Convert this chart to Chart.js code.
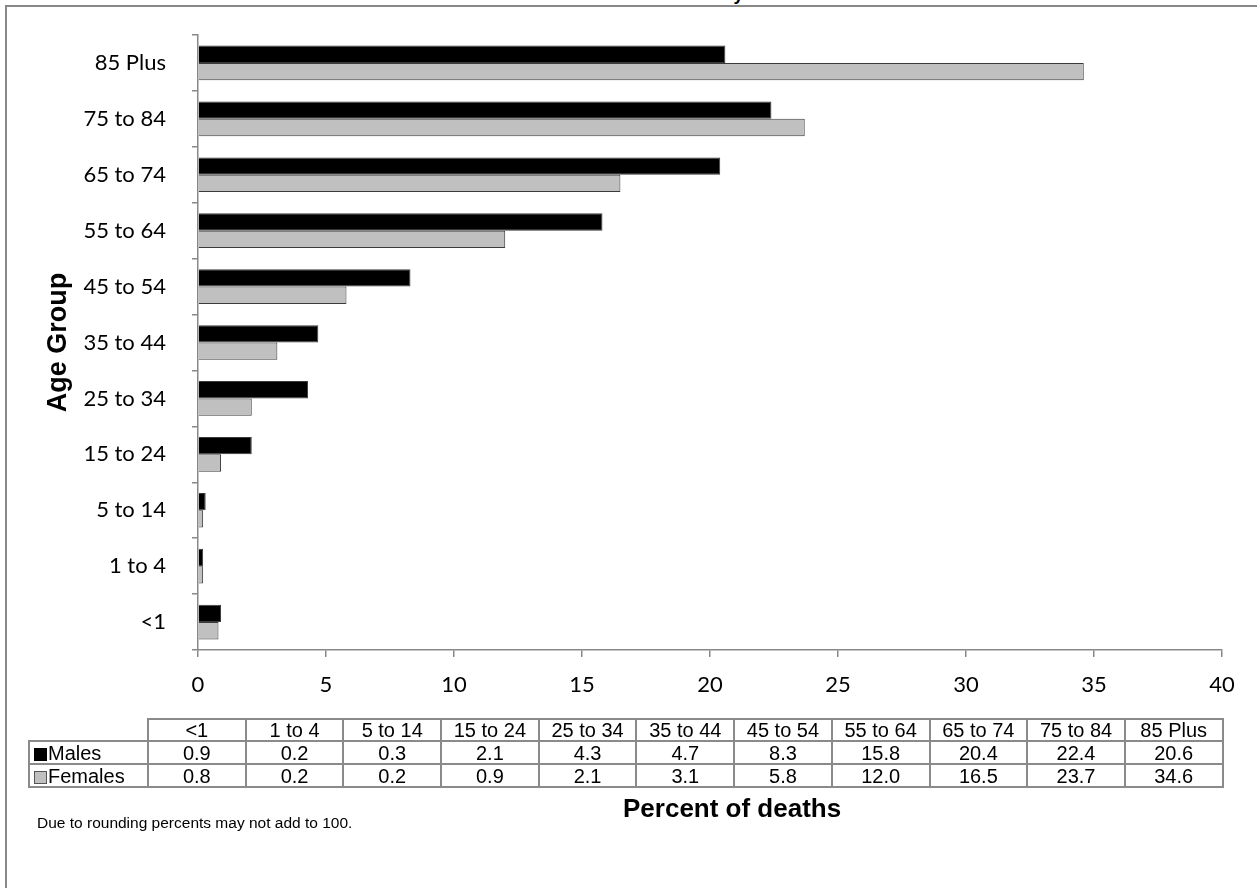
<!DOCTYPE html>
<html>
<head>
<meta charset="utf-8">
<script src="https://cdn.jsdelivr.net/npm/chart.js@4/dist/chart.umd.min.js"></script>
<style>
html,body{margin:0;padding:0;background:#fff;}
#wrap{position:relative;width:1257px;height:888px;overflow:hidden;background:#fff;}
#frame{position:absolute;left:5px;top:5px;width:1400px;height:1000px;border:2px solid #888;box-sizing:border-box;}
#cv{position:absolute;left:0;top:0;}
#title{position:absolute;top:-15px;left:488px;width:400px;text-align:center;font:bold 18px "Liberation Sans",Arial,sans-serif;line-height:18px;white-space:nowrap;color:#000;}
#tbl{position:absolute;left:28px;top:718px;border-collapse:collapse;table-layout:fixed;font:20px "Liberation Sans",Arial,sans-serif;color:#000;}
#tbl td{border:2px solid #8a8a8a;text-align:center;padding:0;line-height:20px;white-space:nowrap;overflow:hidden;}
#tbl td.blank{border-top:none;border-left:none;}
#tbl td.lab{text-align:left;padding-left:4px;}
.key{display:inline-block;width:13px;height:13px;margin-right:1px;vertical-align:-1px;box-sizing:border-box;}
#xtitle{position:absolute;left:623px;top:793px;font:bold 26px "Liberation Sans",Arial,sans-serif;white-space:nowrap;}
#note{position:absolute;left:37px;top:814px;font:15.5px "Liberation Sans",Arial,sans-serif;white-space:nowrap;}
</style>
</head>
<body>
<div id="wrap">
  <div id="title">Percent of Deaths by Gender</div>
  <div id="frame"></div>
  <canvas id="cv" width="1257" height="888"></canvas>
  <table id="tbl"></table>
  <div id="xtitle">Percent of deaths</div>
  <div id="note">Due to rounding percents may not add to 100.</div>
</div>
<script>
const categories = ['<1','1 to 4','5 to 14','15 to 24','25 to 34','35 to 44','45 to 54','55 to 64','65 to 74','75 to 84','85 Plus'];
const males = [0.9,0.2,0.3,2.1,4.3,4.7,8.3,15.8,20.4,22.4,20.6];
const females = [0.8,0.2,0.2,0.9,2.1,3.1,5.8,12.0,16.5,23.7,34.6];
const seriesNames = ['Males','Females'];
const seriesColors = ['#000000','#c0c0c0'];
const xMin = 0, xMax = 40, xStep = 5;

// data table under the chart
(function(){
  const t = document.getElementById('tbl');
  const colg = document.createElement('colgroup');
  const c0 = document.createElement('col'); c0.style.width = '119px'; colg.appendChild(c0);
  categories.forEach(()=>{const c=document.createElement('col'); c.style.width='97.7px'; colg.appendChild(c);});
  t.appendChild(colg);
  const hr = document.createElement('tr'); hr.style.height='22px';
  const b = document.createElement('td'); b.className='blank'; hr.appendChild(b);
  categories.forEach(c=>{const td=document.createElement('td'); td.textContent=c; hr.appendChild(td);});
  t.appendChild(hr);
  [males,females].forEach((arr,i)=>{
    const tr=document.createElement('tr'); tr.style.height='23px';
    const l=document.createElement('td'); l.className='lab';
    const k=document.createElement('span'); k.className='key';
    k.style.background=seriesColors[i]; k.style.border = i===0 ? '1px solid #000' : '1px solid #555';
    l.appendChild(k); l.appendChild(document.createTextNode(seriesNames[i])); tr.appendChild(l);
    arr.forEach(v=>{const td=document.createElement('td'); td.textContent=v.toFixed(1); tr.appendChild(td);});
    t.appendChild(tr);
  });
})();

const axisColor = '#888888';
new Chart(document.getElementById('cv').getContext('2d'), {
  type: 'bar',
  data: {
    labels: categories.slice().reverse(),
    datasets: [
      {label: seriesNames[0], data: males.slice().reverse(), backgroundColor: seriesColors[0], borderColor: '#3a3a3a', borderWidth: 1, categoryPercentage: 0.62, barPercentage: 1.0},
      {label: seriesNames[1], data: females.slice().reverse(), backgroundColor: seriesColors[1], borderColor: '#3a3a3a', borderWidth: 1, categoryPercentage: 0.62, barPercentage: 1.0}
    ]
  },
  options: {
    indexAxis: 'y',
    responsive: false,
    animation: false,
    devicePixelRatio: 1,
    layout: {padding: {left: 0, right: 35, top: 35, bottom: 188}},
    plugins: {legend: {display: false}, tooltip: {enabled: false}, title: {display: false}},
    scales: {
      x: {
        min: xMin, max: xMax,
        ticks: {stepSize: xStep, color: '#000', font: {family: 'Lato', size: 22}, padding: 15},
        grid: {drawOnChartArea: false, drawTicks: true, tickLength: 7, color: axisColor, lineWidth: 1.5},
        border: {color: axisColor, width: 1.5},
        afterFit(s){ s.height = 50; s.paddingLeft = 0; s.paddingRight = 0; }
      },
      y: {
        ticks: {color: '#000', font: {family: 'Lato', size: 22}, padding: 26},
        grid: {offset: true, drawOnChartArea: false, drawTicks: true, tickLength: 6, color: axisColor, lineWidth: 1.5},
        border: {color: axisColor, width: 1.5},
        title: {display: true, text: 'Age Group', color: '#000', font: {family: 'Liberation Sans', size: 27, weight: 'bold'}, padding: {top: 42, bottom: 0}},
        afterFit(s){ s.width = 198; s.paddingTop = 0; s.paddingBottom = 0; }
      }
    }
  }
});
</script>
</body>
</html>
